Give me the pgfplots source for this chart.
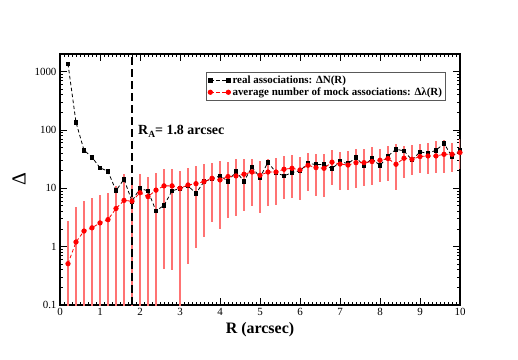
\documentclass[border=0pt]{standalone}
\usepackage{fontspec}
\setmainfont{Liberation Serif}
\usepackage{pgfplots}
\usepackage{pgfplotstable}
\pgfplotsset{compat=1.18}
\definecolor{errred}{RGB}{255,115,115}
\pgfplotstableread{
x y
0.2 1350
0.4 135
0.6 45
0.8 34
1.0 22.5
1.2 19.5
1.4 9.1
1.6 14.3
1.8 6.0
2.0 10
2.2 9
2.4 4.1
2.6 5.1
2.8 9
3.0 10
3.2 11
3.4 8.2
3.6 13
3.8 14.5
4.0 16.3
4.2 13.2
4.4 19.3
4.6 13.2
4.8 23.2
5.0 15.3
5.2 28
5.4 18.6
5.6 16.3
5.8 18.6
6.0 20
6.2 26.8
6.4 25.5
6.6 25.5
6.8 21.7
7.0 28.6
7.2 26.5
7.4 33.6
7.6 24.5
7.8 32.3
8.0 24.5
8.2 35.8
8.4 46.7
8.6 43.7
8.8 30.6
9.0 42
9.2 39.8
9.4 44.8
9.6 58.5
9.8 35
10.0 44.8
}\realtab
\pgfplotstableread{
x y lo hi
0.2 0.51 0.05 2.75
0.4 1.2 0.05 4.7
0.6 1.85 0.05 6.0
0.8 2.1 0.05 6.7
1.0 2.55 0.05 7.6
1.2 2.9 0.05 8.4
1.4 4.5 0.05 11
1.6 6.2 0.05 17.4
1.8 6.0 0.05 15
2.0 8.4 0.05 17.9
2.2 7.2 0.05 15.9
2.4 9.3 0.05 18.6
2.6 11 0.41 21
2.8 11 0.40 21
3.0 10 0.05 19.8
3.2 11.4 0.51 22.6
3.4 12 0.93 24
3.6 13 1.48 25.8
3.8 14.8 2.6 27.5
4.0 13.9 1.98 29.4
4.2 15.9 3.1 28
4.4 16.3 3.35 31.4
4.6 17.4 4.1 31.4
4.8 19 5.0 32.3
5.0 16.7 3.7 29.4
5.2 19 5.0 32.3
5.4 19 5.2 33.6
5.6 21.2 6.6 35.8
5.8 22 6.9 36.8
6.0 20.6 6.3 35
6.2 24.8 9.0 40.9
6.4 22.6 7.4 38.2
6.6 22 7.1 38.2
6.8 28 11.3 45.4
7.0 26 9.5 42
7.2 25 9.3 43.7
7.4 27.5 10.3 46.7
7.6 27.5 11.1 46.7
7.8 28.7 11.6 50
8.0 30.2 12.9 48
8.2 32.3 13.3 53
8.4 25.8 9.3 56.8
8.6 32.7 15.3 53
8.8 31.4 16.7 55
9.0 35 18.6 56.8
9.2 35.8 17.4 60.7
9.4 35.8 18.6 64.6
9.6 38.2 18.6 67
9.8 38.2 19 60.7
10.0 41 21.2 69
}\mocktab
\begin{document}
\begin{tikzpicture}
\begin{axis}[
  scale only axis,
  width=400bp, height=251bp,
  at={(0,0)}, anchor=south west,
  xmin=0, xmax=10,
  ymode=log, ymin=0.1, ymax=2000,
  axis line style={line width=1.1bp},
  xtick={0,1,...,10},
  minor x tick num=9,
  ytick={0.1,1,10,100,1000},
  yticklabels={0.1,1,10,100,1000},
  tick align=inside,
  tick pos=both,
  major tick length=7bp,
  minor tick length=3.5bp,
  every tick/.style={black, line width=0.8bp},
  /pgf/number format/assume math mode=true,
  tick label style={font=\fontsize{11}{13}\selectfont},
  xlabel={\textbf{R (arcsec)}},
  xlabel style={font=\fontsize{16}{18}\selectfont},
  ylabel={Δ},
  ylabel style={font=\fontsize{20}{22}\selectfont, xshift=0bp, yshift=2bp},
  legend style={at={(0.965,0.928)}, anchor=north east,
    font=\bfseries\fontsize{11}{12}\selectfont,
    draw=black!65, line width=1bp, inner sep=1.5bp,
    row sep=-1.5bp},
  legend cell align=left,
  legend image code/.code={\draw[mark repeat=2,mark phase=1,#1] plot coordinates {(0bp,0bp) (9bp,0bp) (18bp,0bp)};},
]
\addplot[draw=none, forget plot,
  error bars/.cd, y dir=both, y explicit, error mark=none,
  error bar style={errred, line width=2bp}]
  table[x=x, y=y, y error plus expr=\thisrow{hi}-\thisrow{y}, y error minus expr=\thisrow{y}-\thisrow{lo}] {\mocktab};
\addplot[black, forget plot, line width=2bp, dash pattern=on 8bp off 4bp] coordinates {(1.8,0.1) (1.8,2000)};
\addplot[black, line width=0.8bp, dash pattern=on 3.5bp off 2.5bp, mark=square*, mark size=1.8bp,
  mark options={solid}] table[x=x,y=y] {\realtab};
\addlegendentry{real associations: ΔN(R)}
\addplot[red, line width=0.8bp, dash pattern=on 3.5bp off 2.5bp, mark=*, mark size=2.2bp,
  mark options={solid}] table[x=x,y=y] {\mocktab};
\addlegendentry{average number of mock associations: Δλ(R)}
\node[anchor=base west, font=\bfseries\fontsize{14}{16}\selectfont, inner sep=0pt] at (axis cs:1.95,84) {R\raisebox{-0.45ex}{\fontsize{9.5}{10}\selectfont A}= 1.8 arcsec};
\end{axis}
\path (-60bp,-55bp) rectangle (458bp,305bp);
\end{tikzpicture}
\end{document}
